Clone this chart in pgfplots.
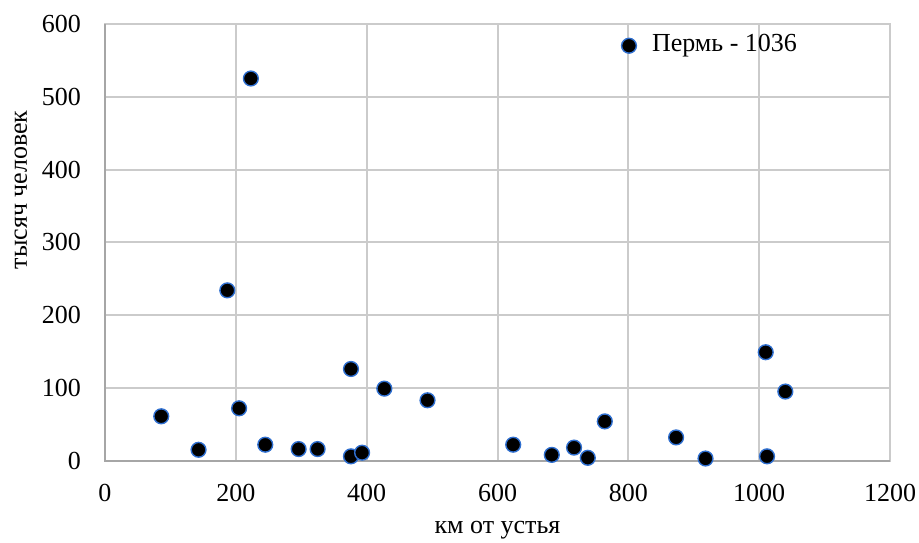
\documentclass[border=0pt]{standalone}
\usepackage{fontspec}
\setmainfont{Liberation Serif}
\usepackage{pgfplots}
\pgfplotsset{compat=1.18}

\definecolor{gridgray}{HTML}{CBCBCB}
\definecolor{axisgray}{HTML}{A6A6A6}
\definecolor{markblue}{HTML}{2F6FD0}

\begin{document}
\fontsize{13}{15.5}\selectfont
\begin{tikzpicture}
% picture size: 919x542 px at 0.5pt per px
\useasboundingbox (-52.5pt,-40.65pt) rectangle ++(459.5pt,271pt);
\begin{axis}[
    at={(0,0)}, anchor=south west,
    scale only axis,
    width=392.5pt, height=218.4pt,
    xmin=0, xmax=1200, ymin=0, ymax=600,
    xtick={0,200,...,1200}, ytick={0,100,...,600},
    grid=major,
    major grid style={gridgray, line width=1pt},
    axis line style={gridgray, line width=1pt},
    major tick length=0pt,
    /pgf/number format/assume math mode=true,
    /pgf/number format/1000 sep={},
    xticklabel style={yshift=-7pt},
    yticklabel style={xshift=-7.5pt},
    xlabel={км от устья},
    ylabel={тысяч человек},
    xlabel style={at={(rel axis cs:0.5,0)}, anchor=base, yshift=-36.5pt},
    ylabel style={at={(rel axis cs:0,0.62)}, anchor=center, yshift=42pt},
    clip=false,
]
\draw[axisgray, line width=1pt] (rel axis cs:0,1) -- (rel axis cs:0,0) -- (rel axis cs:1,0);
\addplot[only marks, mark=*, mark size=3.7pt,
    mark options={fill=black, draw=markblue, line width=0.7pt}]
coordinates {
(86,61) (143,15) (187,234) (223,525) (205,72) (245,22) (296,16) (325,16)
(376,6) (393,11) (376,126) (427,99) (493,83) (624,22) (683,8) (717,18)
(738,4) (764,54) (873,32) (918,3) (1012,6) (1010,149) (1040,95)
};
\addplot[only marks, mark=*, mark size=3.7pt,
    mark options={fill=black, draw=markblue, line width=0.7pt}]
coordinates {(801,570)} node[right, xshift=7pt] {Пермь - 1036};
\end{axis}
\end{tikzpicture}
\end{document}
